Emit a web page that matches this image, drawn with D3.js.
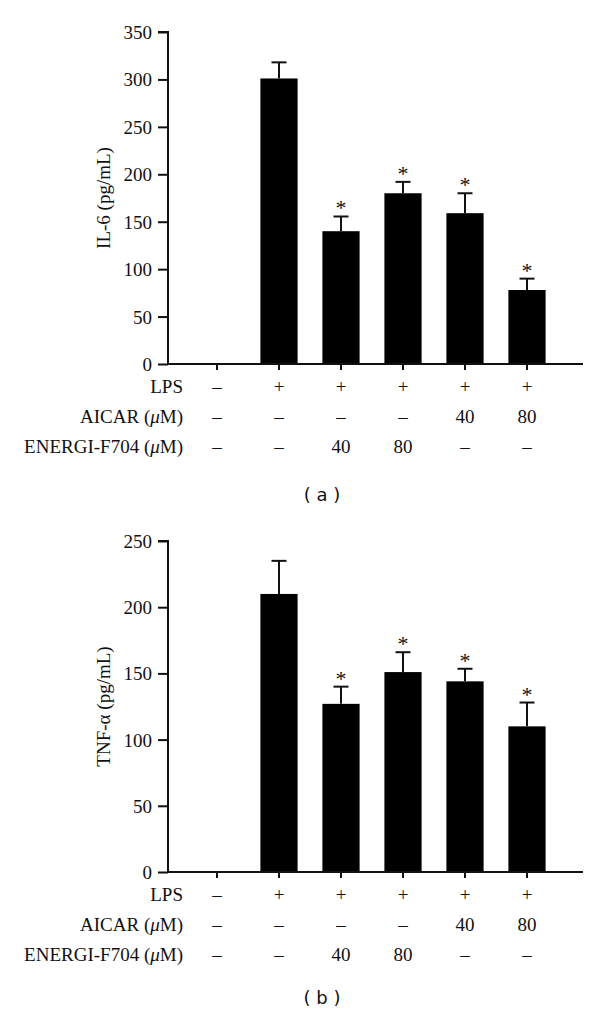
<!DOCTYPE html>
<html>
<head>
<meta charset="utf-8">
<script src="https://cdn.jsdelivr.net/npm/d3@7"></script>
<style>
  html, body { margin: 0; padding: 0; background: #fff; }
  svg { display: block; }
  .serif { font-family: "Liberation Serif", Tinos, "Times New Roman", "DejaVu Serif", serif; }
  .sans { font-family: "DejaVu Sans", Verdana, sans-serif; }
</style>
</head>
<body>
<div id="chart"></div>
<script>
// ---------- data ----------
const groups = ["G1", "G2", "G3", "G4", "G5", "G6"];
const il6Values = [0, 301, 140, 180, 159, 78];
const il6Errors = [0, 17, 15.5, 12, 21, 12];
const tnfValues = [0, 210, 127, 151, 144, 110];
const tnfErrors = [0, 25, 13, 15, 9.5, 18];
const significant = [false, false, true, true, true, true];
const il6Ticks = [0, 50, 100, 150, 200, 250, 300, 350];
const tnfTicks = [0, 50, 100, 150, 200, 250];
const rowLabels = ["LPS", "AICAR", "ENERGI-F704"];
const rowUnits = ["", " (μM)", " (μM)"];
const lpsRow = ["–", "+", "+", "+", "+", "+"];
const aicarRow = ["–", "–", "–", "–", "40", "80"];
const energiRow = ["–", "–", "40", "80", "–", "–"];

// ---------- drawing ----------
const W = 600, H = 1017;
const svg = d3.select("#chart").append("svg")
  .attr("width", W).attr("height", H)
  .style("background", "#fff");

const axisX0 = 168, axisX1 = 583;

const x = d3.scaleBand().domain(groups).range([186, 558])
  .paddingInner(0.4).paddingOuter(0.2);

function panel(cfg) {
  const g = svg.append("g");
  const y = d3.scaleLinear().domain([0, cfg.max]).range([cfg.y0, cfg.yTop]);

  // y axis
  const yAxis = d3.axisLeft(y).tickValues(cfg.ticks).tickSize(10).tickPadding(6)
    .tickFormat(d3.format("d"));
  const ya = g.append("g").attr("transform", `translate(${axisX0},0)`).call(yAxis)
    .attr("font-family", null).attr("font-size", null);
  ya.select(".domain").attr("stroke", "#111").attr("stroke-width", 2)
    .attr("d", `M-10,${cfg.yTop}H0V${cfg.y0}`);
  ya.selectAll(".tick line").attr("stroke", "#111").attr("stroke-width", 2);
  ya.selectAll(".tick text").attr("class", "serif").style("font-size", "19px")
    .attr("fill", "#111").attr("dy", "0.34em");

  // y label
  g.append("text")
    .attr("class", "serif")
    .attr("transform", `translate(${cfg.labelX},${(cfg.y0 + cfg.yTop) / 2}) rotate(-90)`)
    .attr("text-anchor", "middle")
    .style("font-size", "19px").attr("fill", "#111")
    .text(cfg.yLabel);

  // bars
  g.selectAll("rect.bar").data(groups).join("rect")
    .attr("class", "bar")
    .attr("x", d => x(d))
    .attr("width", x.bandwidth())
    .attr("y", (d, i) => y(cfg.values[i]))
    .attr("height", (d, i) => cfg.y0 - y(cfg.values[i]))
    .attr("fill", "#000");

  const top = d => {
    const i = groups.indexOf(d);
    return y(cfg.values[i] + cfg.errors[i]);
  };
  const cx = d => x(d) + x.bandwidth() / 2;

  // error bars (upper only)
  const eb = g.selectAll("g.err").data(groups.filter((d, i) => cfg.values[i] > 0)).join("g")
    .attr("class", "err");
  eb.append("line")
    .attr("x1", cx).attr("x2", cx)
    .attr("y1", d => y(cfg.values[groups.indexOf(d)]))
    .attr("y2", top)
    .attr("stroke", "#111").attr("stroke-width", 2);
  eb.append("line")
    .attr("x1", d => cx(d) - 7.5).attr("x2", d => cx(d) + 7.5)
    .attr("y1", top).attr("y2", top)
    .attr("stroke", "#111").attr("stroke-width", 2);

  // asterisks
  g.selectAll("text.star").data(groups.filter((d, i) => significant[i])).join("text")
    .attr("class", "serif")
    .attr("x", cx)
    .attr("y", d => top(d) - 1)
    .attr("text-anchor", "middle")
    .style("font-size", "22px").attr("fill", "#111")
    .text("*");

  // x axis
  const xAxis = d3.axisBottom(x).tickSize(6).tickFormat("");
  const xa = g.append("g").attr("transform", `translate(0,${cfg.y0})`).call(xAxis);
  xa.select(".domain").attr("stroke", "#111").attr("stroke-width", 2)
    .attr("d", `M${axisX0},0H${axisX1}`);
  xa.selectAll(".tick line").attr("stroke", "#111").attr("stroke-width", 2);

  // condition rows
  const rows = [lpsRow, aicarRow, energiRow];
  rows.forEach((row, r) => {
    const by = cfg.y0 + cfg.rowOffsets[r];
    const lt = g.append("text")
      .attr("class", "serif")
      .attr("x", 183).attr("y", by)
      .attr("text-anchor", "end")
      .style("font-size", "19px").attr("fill", "#111");
    lt.append("tspan").text(rowLabels[r]);
    if (rowUnits[r]) {
      lt.append("tspan").text(" (");
      lt.append("tspan").attr("font-style", "italic").text("μ");
      lt.append("tspan").text("M)");
    }
    g.selectAll(null).data(groups).join("text")
      .attr("class", "serif")
      .attr("x", cx)
      .attr("y", by)
      .attr("text-anchor", "middle")
      .style("font-size", "19px").attr("fill", "#111")
      .text((d, i) => row[i]);
  });

  // panel label
  g.append("text")
    .attr("class", "sans")
    .attr("x", 322).attr("y", cfg.panelY)
    .attr("text-anchor", "middle")
    .style("font-size", "18px").attr("fill", "#111")
    .text(cfg.panel);
}

panel({
  max: 350, y0: 364, yTop: 32, ticks: il6Ticks,
  values: il6Values, errors: il6Errors, yLabel: "IL-6 (pg/mL)", labelX: 110,
  rowOffsets: [29, 59, 89], panelY: 501, panel: "( a )"
});
panel({
  max: 250, y0: 872, yTop: 541, ticks: tnfTicks,
  values: tnfValues, errors: tnfErrors, yLabel: "TNF-α (pg/mL)", labelX: 110,
  rowOffsets: [29, 59, 89], panelY: 1004, panel: "( b )"
});
</script>
</body>
</html>
